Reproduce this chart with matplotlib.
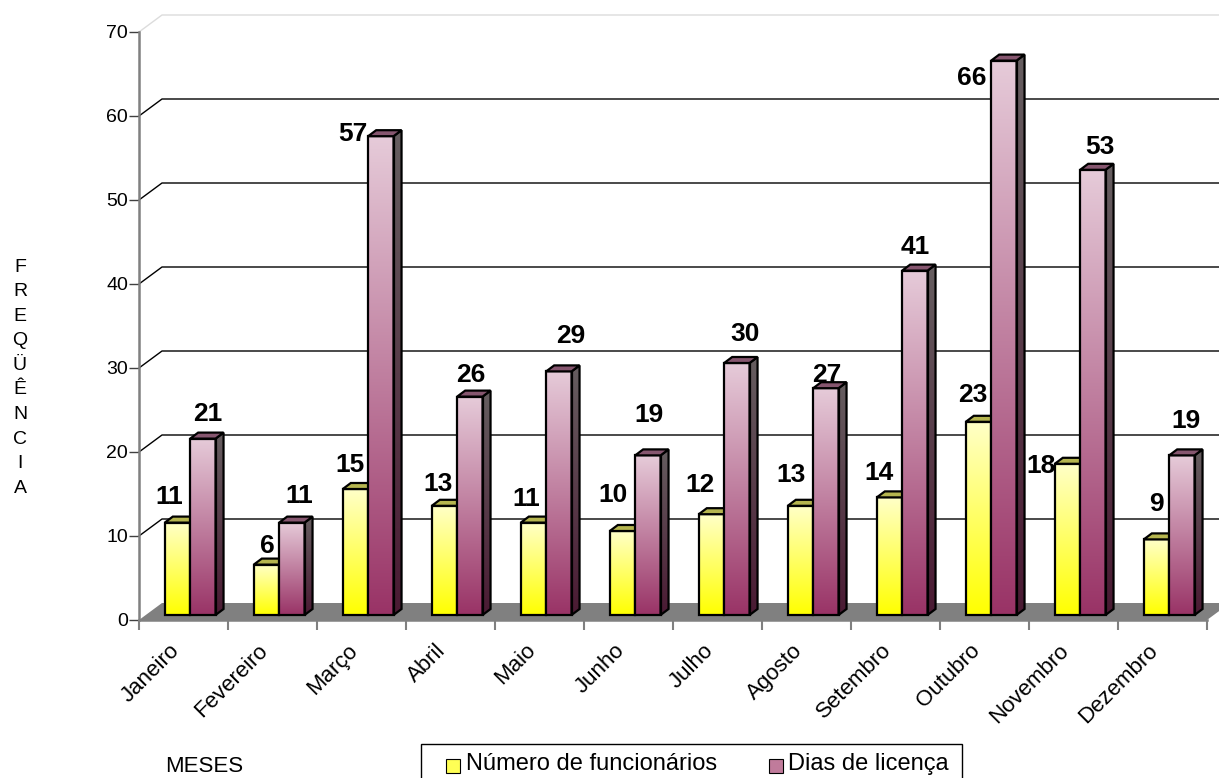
import numpy as np
import matplotlib
matplotlib.use("Agg")
import matplotlib.pyplot as plt
from matplotlib.patches import Polygon, Rectangle
from matplotlib.colors import LinearSegmentedColormap

# ---------------- data ----------------
months = ["Janeiro", "Fevereiro", "Março", "Abril", "Maio", "Junho",
          "Julho", "Agosto", "Setembro", "Outubro", "Novembro", "Dezembro"]
funcionarios = [11, 6, 15, 13, 11, 10, 12, 13, 14, 23, 18, 9]
dias_licenca = [21, 11, 57, 26, 29, 19, 30, 27, 41, 66, 53, 19]
series_names = ["Número de funcionários", "Dias de licença"]
y_ticks = [0, 10, 20, 30, 40, 50, 60, 70]
y_title = "FREQÜÊNCIA"
x_title = "MESES"

# label offsets (pixels, relative to top-centre of each bar) - style only
off_func = [(-8, -28), (1, -21), (-5, -26), (-6, -24), (-7, -26), (-9, -39),
            (-11, -32), (-9, -33), (-10, -27), (-6, -29), (-26, 0), (0, -38)]
off_dias = [(5, -27), (7, -29), (-28, -5), (1, -24), (12, -38), (1, -43),
            (8, -31), (1, -16), (0, -26), (-32, 15), (7, -25), (4, -37)]

plt.rcParams["font.family"] = ["Liberation Sans", "DejaVu Sans"]

W, H = 1219, 778
fig = plt.figure(figsize=(W / 100, H / 100), dpi=100)
ax = fig.add_axes([139 / W, (H - 620) / H, 1068 / W, 588 / H])
n = len(months)
ax.set_xlim(0, n)
ax.set_ylim(0, 70)
ax.patch.set_visible(False)

PXX = 1068 / n      # px per category
PXY = 588 / 70      # px per unit
DX, DY = 23 / PXX, 17 / PXY          # full depth of floor / walls
B0 = 5 / PXY                          # bar front base height
BDX, BDY = 8 / PXX, 6 / PXY           # bar depth
BAR_LEFT, BAR_W = 0.29, 0.285

# floor
ax.add_patch(Polygon([(0, 0), (n, 0), (n + DX, DY), (DX, DY)], closed=True,
                     fc="#808080", ec="none", zorder=1, clip_on=False))

# back-wall gridlines
for v in y_ticks[1:]:
    col = "black" if v < 70 else "#dcdcdc"
    ax.plot([0, DX, n + DX + 1], [v, v + DY, v + DY], color=col, lw=1.0,
            clip_on=False, zorder=0.5, solid_capstyle="butt")

G = np.linspace(0, 1, 256).reshape(-1, 1)
cm_yel = LinearSegmentedColormap.from_list("y", ["#ffff00", "#ffffc8"])
cm_pink = LinearSegmentedColormap.from_list("p", ["#993366", "#e6cbd9"])
cm_pside = LinearSegmentedColormap.from_list("ps", ["#4a1a33", "#665e60"])
cm_yside = LinearSegmentedColormap.from_list("ys", ["#8f8f00", "#9a9a70"])
EDGE = dict(ec="black", lw=1.6, joinstyle="miter")


def bar3d(x0, value, cm_front, cm_side, top_col, z):
    x1 = x0 + BAR_W
    y0 = B0
    yt = B0 + value
    # front face
    ax.imshow(G, extent=[x0, x1, y0, yt], origin="lower", cmap=cm_front,
              aspect="auto", zorder=z, interpolation="bilinear")
    ax.add_patch(Rectangle((x0, y0), BAR_W, value, fill=False, zorder=z + 0.2, **EDGE))
    # side face
    side = [(x1, y0), (x1 + BDX, y0 + BDY), (x1 + BDX, yt + BDY), (x1, yt)]
    im = ax.imshow(G, extent=[x1, x1 + BDX, y0, yt + BDY], origin="lower",
                   cmap=cm_side, aspect="auto", zorder=z, interpolation="bilinear")
    clip = Polygon(side, closed=True, transform=ax.transData)
    im.set_clip_path(clip)
    ax.add_patch(Polygon(side, closed=True, fill=False, zorder=z + 0.2, **EDGE))
    # top face
    top = [(x0, yt), (x1, yt), (x1 + BDX, yt + BDY), (x0 + BDX, yt + BDY)]
    ax.add_patch(Polygon(top, closed=True, fc=top_col, zorder=z + 0.2, **EDGE))
    return (x0 + x1) / 2, yt


def label(cx, yt, val, off):
    dxp, dyp = off
    ax.text(cx + dxp / PXX, yt - (dyp + 2.5) / PXY, str(val), ha="center",
            va="center", fontsize=19, fontweight="bold", color="black",
            zorder=20, clip_on=False)


for i in range(n):
    z = 3 + i
    xa = i + BAR_LEFT
    cx1, yt1 = bar3d(xa, funcionarios[i], cm_yel, cm_yside, "#b5b54f", z)
    cx2, yt2 = bar3d(xa + BAR_W, dias_licenca[i], cm_pink, cm_pside, "#86566f", z + 0.5)
    label(cx1, yt1, funcionarios[i], off_func[i])
    label(cx2, yt2, dias_licenca[i], off_dias[i])

ax.set_xlim(0, n)
ax.set_ylim(0, 70)

# axes styling
for s in ["top", "right"]:
    ax.spines[s].set_visible(False)
for s in ["left", "bottom"]:
    ax.spines[s].set_color("#808080")
    ax.spines[s].set_linewidth(1.8)
ax.set_yticks(y_ticks)
ax.set_yticklabels([str(t) for t in y_ticks], fontsize=14)
ax.tick_params(axis="y", length=7, width=1.0, color="#404040", pad=1)
ax.set_xticks(np.arange(n + 1))
ax.set_xticklabels([])
ax.tick_params(axis="x", which="major", length=7, width=1.5, color="#808080")
ax.set_xticks(np.arange(n) + 0.5, minor=True)
ax.set_xticklabels(months, minor=True, rotation=45, ha="right", va="bottom",
                   rotation_mode="anchor", fontsize=16)
ax.tick_params(axis="x", which="minor", length=0, pad=25)

# axis titles
for k, ch in enumerate(y_title):
    fig.text(20 / W, 1 - (267 + k * 24.6) / H, ch, ha="center", va="center",
             fontsize=14)
fig.text(204 / W, 1 - 766 / H, x_title, ha="center", va="center", fontsize=16)

# legend (manual, Excel style)
def fx(p):
    return p / W


def fy(p):
    return 1 - p / H


fig.patches.append(Rectangle((fx(421), fy(792)), (962 - 421) / W, (792 - 744) / H,
                             transform=fig.transFigure, fc="white", ec="black",
                             lw=1.0))
fig.patches.append(Rectangle((fx(446), fy(773)), 14 / W, 14 / H,
                             transform=fig.transFigure, fc="#ffff55", ec="black", lw=0.8))
fig.text(fx(466), fy(764), series_names[0], ha="left", va="center", fontsize=17)
fig.patches.append(Rectangle((fx(769), fy(773)), 14 / W, 14 / H,
                             transform=fig.transFigure, fc="#c07b9b", ec="black", lw=0.8))
fig.text(fx(788), fy(764), series_names[1], ha="left", va="center", fontsize=17)

fig.savefig("out.png", dpi=100)
